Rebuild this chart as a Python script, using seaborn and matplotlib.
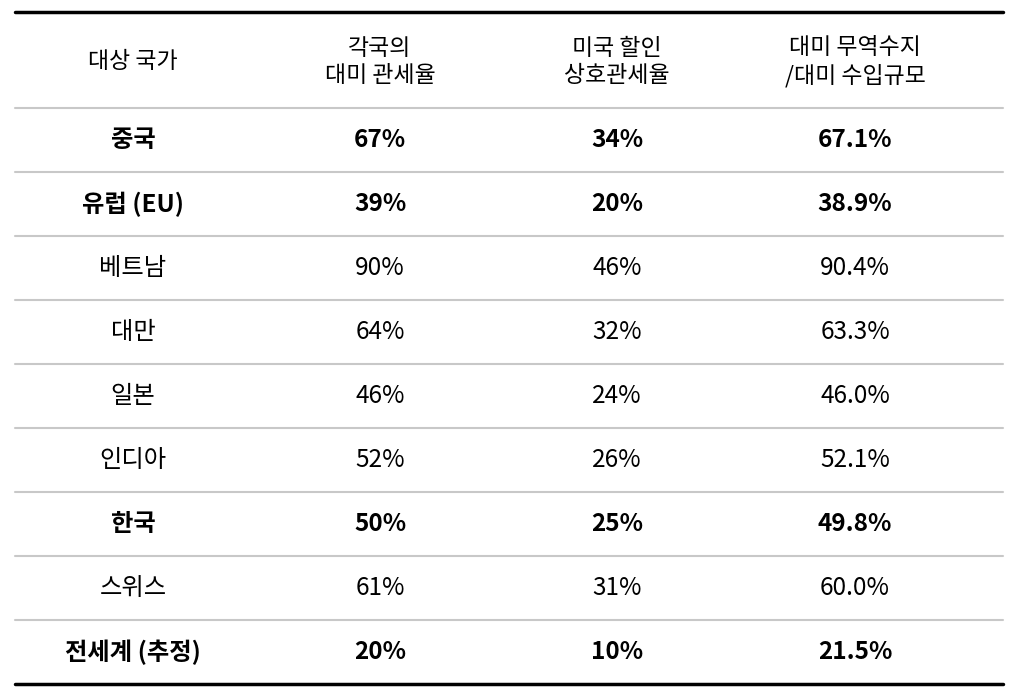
import matplotlib
matplotlib.use("Agg")
import matplotlib.pyplot as plt
import seaborn as sns

sns.set_theme(style="white")
plt.rcParams["font.family"] = "Noto Sans CJK KR"

headers = ["대상 국가", "각국의\n대미 관세율", "미국 할인\n상호관세율", "대미 무역수지\n/대미 수입규모"]
countries = ["중국", "유럽 (EU)", "베트남", "대만", "일본", "인디아", "한국", "스위스", "전세계 (추정)"]
tariff = ["67%", "39%", "90%", "64%", "46%", "52%", "50%", "61%", "20%"]
reciprocal = ["34%", "20%", "46%", "32%", "24%", "26%", "25%", "31%", "10%"]
ratio = ["67.1%", "38.9%", "90.4%", "63.3%", "46.0%", "52.1%", "49.8%", "60.0%", "21.5%"]
bold_rows = ["중국", "유럽 (EU)", "한국", "전세계 (추정)"]

W, H = 1016, 690
fig = plt.figure(figsize=(W / 100, H / 100), dpi=100)
ax = fig.add_axes([0, 0, 1, 1])
ax.set_xlim(0, W)
ax.set_ylim(H, 0)
ax.axis("off")

xs = [133, 380, 617, 855]
left, right = 15, 1003
top, head_bot, bottom = 12, 108, 684
row_h = (bottom - head_bot) / len(countries)

ax.plot([left, right], [top, top], color="black", lw=2.5)
ax.plot([left, right], [bottom, bottom], color="black", lw=2.5)
for i in range(len(countries)):
    y = head_bot + i * row_h
    ax.plot([left, right], [y, y], color="#c8c8c8", lw=1.5)

for x, h in zip(xs, headers):
    ax.text(x, (top + head_bot) / 2 + 2, h, ha="center", va="center", fontsize=16.5,
            linespacing=1.25, color="black")

for i, c in enumerate(countries):
    y = head_bot + (i + 0.5) * row_h
    w = "bold" if c in bold_rows else "normal"
    for x, v in zip(xs, [c, tariff[i], reciprocal[i], ratio[i]]):
        ax.text(x, y, v, ha="center", va="center", fontsize=17.5, fontweight=w, color="black")

fig.savefig("out.png", dpi=100, facecolor="white")
